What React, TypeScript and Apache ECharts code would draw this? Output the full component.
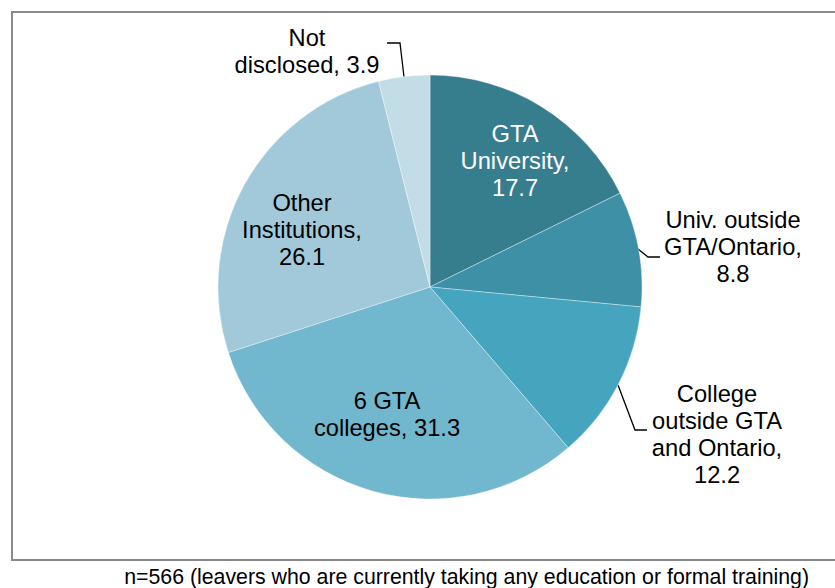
import React, { useEffect, useRef } from "react";
import * as echarts from "echarts";

const categories = [
  "GTA\nUniversity",
  "Univ. outside\nGTA/Ontario",
  "College\noutside GTA\nand Ontario",
  "6 GTA\ncolleges",
  "Other\nInstitutions",
  "Not\ndisclosed",
];
const values = [17.7, 8.8, 12.2, 31.3, 26.1, 3.9];
const valueSeparators = [",\n", ",\n", ",\n", ", ", ",\n", ", "];
const footnote = "n=566 (leavers who are currently taking any education or formal training)";

const colors = ["#367D8E", "#3E90A7", "#46A5BE", "#71B7CE", "#A1C9DA", "#C3DDE6"];
const labelColors = ["#ffffff", "#000000", "#000000", "#000000", "#000000", "#000000"];
const outsideLabel = [false, true, true, false, false, true];
// label block centres and leader-line points (layout only)
const labelCenters: number[][] = [
  [515, 161],
  [733, 247],
  [717, 434],
  [387, 414],
  [302, 230],
  [307, 51],
];
const leaderLines: (number[][] | null)[] = [
  null,
  [[638, 249], [648, 257], [660, 257]],
  [[618, 385], [635, 430], [647, 430]],
  null,
  null,
  [[404, 77], [400, 43], [387, 43]],
];

export default function App() {
  const ref = useRef<HTMLDivElement>(null);
  useEffect(() => {
    if (!ref.current) return;
    const chart = echarts.init(ref.current, null, { renderer: "svg" });
    const font = "'Liberation Sans', Arial, sans-serif";
    chart.setOption({
      animation: false,
      backgroundColor: "#ffffff",
      graphic: [
        {
          type: "rect",
          shape: { x: 12, y: 12, width: 840, height: 548 },
          style: { fill: "none", stroke: "#8a8a8a", lineWidth: 2 },
          z: 0,
        },
        {
          type: "text",
          x: 809,
          y: 577,
          style: {
            text: footnote,
            fontSize: 21.3,
            fontFamily: font,
            fill: "#000000",
            textAlign: "right",
            textVerticalAlign: "middle",
          },
        },
      ],
      series: [
        {
          type: "pie",
          center: [430, 287],
          radius: 212,
          startAngle: 90,
          clockwise: true,
          avoidLabelOverlap: false,
          itemStyle: { borderColor: "rgba(255,255,255,0.6)", borderWidth: 0.6 },
          label: {
            show: true,
            position: "outside",
            fontSize: 23.7,
            lineHeight: 27,
            fontFamily: font,
            color: "#000",
            align: "center",
            formatter: (p: any) => p.name + valueSeparators[p.dataIndex] + p.value,
          },
          labelLine: {
            show: true,
            lineStyle: { color: "#000000", width: 1.3 },
          },
          emphasis: { disabled: true },
          data: categories.map((c, i) => ({
            name: c,
            value: values[i],
            itemStyle: { color: colors[i] },
            label: { color: labelColors[i] },
            labelLine: { show: outsideLabel[i] },
          })),
          labelLayout: (p: any) => {
            const i = p.dataIndex;
            const out: any = {
              x: labelCenters[i][0],
              y: labelCenters[i][1],
              align: "center",
              verticalAlign: "middle",
            };
            if (leaderLines[i]) out.labelLinePoints = leaderLines[i];
            return out;
          },
        },
      ],
    });
    return () => chart.dispose();
  }, []);
  return (
    <div
      ref={ref}
      style={{ position: "fixed", left: 0, top: 0, width: 835, height: 588 }}
    />
  );
}
